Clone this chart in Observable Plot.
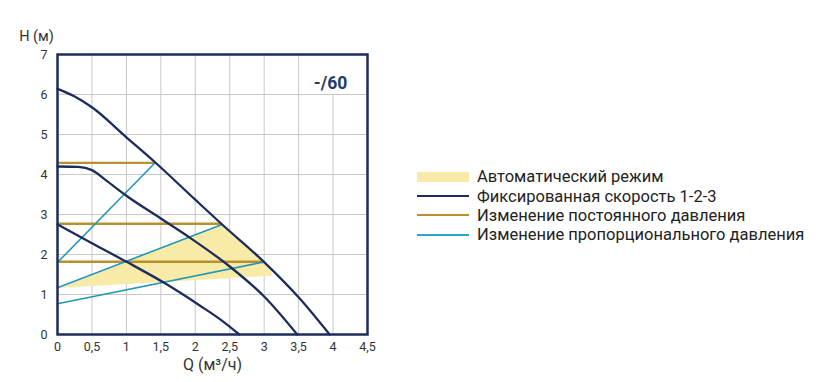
<!DOCTYPE html>
<html>
<head>
<meta charset="utf-8">
<script src="https://cdn.jsdelivr.net/npm/d3@7"></script>
<script src="https://cdn.jsdelivr.net/npm/@observablehq/plot@0.6"></script>
<style>
  body { margin: 0; background: #fff; font-family: Roboto, sans-serif; }
  #wrap { position: relative; width: 833px; height: 382px; }
  #legend { position: absolute; left: 417px; top: 167px; font-family: Roboto, sans-serif; font-size: 16.5px; color: #222; }
  .row { display: flex; align-items: center; white-space: nowrap; height: 19.4px; }
  .sw { width: 52px; margin-right: 8px; }
</style>
</head>
<body>
<div id="wrap"></div>
<script>
// Axis ticks
const qTicks = [0, 0.5, 1, 1.5, 2, 2.5, 3, 3.5, 4, 4.5];
const hTicks = [0, 1, 2, 3, 4, 5, 6, 7];

// Fixed speed curves 1-2-3
const speed1Q = [0, 0.5, 1.01, 1.56, 2.07, 2.4, 2.64];
const speed1H = [2.75, 2.28, 1.81, 1.28, 0.72, 0.33, 0];
const speed2Q = [0, 0.3, 0.5, 0.7, 1.0, 1.5, 1.93, 2.5, 3.0, 3.48];
const speed2H = [4.2, 4.19, 4.11, 3.86, 3.47, 2.9, 2.41, 1.7, 0.95, 0];
const speed3Q = [0, 0.25, 0.5, 1.0, 1.42, 2.0, 2.39, 3.0, 3.5, 3.95];
const speed3H = [6.14, 5.95, 5.68, 4.93, 4.3, 3.37, 2.75, 1.81, 0.93, 0];

// Constant pressure lines (H, ending flow)
const constH = [4.29, 2.77, 1.82];
const constQEnd = [1.42, 2.39, 2.99];

// Proportional pressure lines (start H at Q=0, end point)
const propHStart = [1.8, 1.17, 0.77];
const propQEnd = [1.42, 2.39, 2.99];
const propHEnd = [4.3, 2.75, 1.81];

// Automatic mode area
const autoQ = [0.04, 2.39, 2.6, 3.0, 3.1, 3.12];
const autoH = [1.17, 2.75, 2.44, 1.81, 1.63, 1.47];

const legendItems = [
  {label: "Автоматический режим", kind: "area"},
  {label: "Фиксированная скорость 1-2-3", kind: "speed"},
  {label: "Изменение постоянного давления", kind: "const"},
  {label: "Изменение пропорционального давления", kind: "prop"}
];

const navy = "#1d2c5c", gold = "#b8912e", teal = "#2497b6", yellow = "#f8eba8", grid = "#c8c8c8";
const colors = {area: yellow, speed: navy, const: gold, prop: "#2aa6c6"};

const toPts = (Q, H, id) => Q.map((q, i) => ({q, h: H[i], id}));
const speeds = [...toPts(speed1Q, speed1H, 1), ...toPts(speed2Q, speed2H, 2), ...toPts(speed3Q, speed3H, 3)];
const consts = constH.map((h, i) => ({x1: 0, x2: constQEnd[i], h}));
const props = propHStart.flatMap((h, i) => [{q: 0, h, id: i}, {q: propQEnd[i], h: propHEnd[i], id: i}]);
const auto = toPts(autoQ, autoH, 0);
const fmt = d => String(d).replace(".", ",");

const chart = Plot.plot({
  width: 833, height: 382,
  marginLeft: 57, marginRight: 466, marginTop: 54, marginBottom: 48,
  style: {fontFamily: "Roboto, sans-serif", fontSize: "12.5px", color: "#333", background: "#fff"},
  x: {domain: [0, 4.5], ticks: qTicks, tickFormat: fmt, tickSize: 0, tickPadding: 8, label: null},
  y: {domain: [0, 7], ticks: hTicks, tickFormat: d => String(d), tickSize: 0, tickPadding: 10, label: null},
  marks: [
    Plot.ruleX(qTicks.filter(q => q !== 4), {stroke: grid, strokeWidth: 1}),
    Plot.ruleX([4], {y1: 0, y2: 6, stroke: grid, strokeWidth: 1}),
    Plot.ruleY(hTicks, {stroke: grid, strokeWidth: 1}),
    Plot.line(auto, {x: "q", y: "h", fill: yellow, stroke: "none", curve: "linear-closed"}),
    Plot.ruleY(consts, {x1: "x1", x2: "x2", y: "h", stroke: gold, strokeWidth: 2.4}),
    Plot.line(props, {x: "q", y: "h", z: "id", stroke: teal, strokeWidth: 1.6}),
    Plot.line(speeds, {x: "q", y: "h", z: "id", stroke: navy, strokeWidth: 2.3, curve: "monotone-x"}),
    Plot.frame({stroke: navy, strokeWidth: 2.5}),
    Plot.text(["-/60"], {frameAnchor: "top-right", dx: -37, dy: 22, fontSize: 17.5, fontWeight: "bold", fill: "#1f3b6c", textAnchor: "middle"}),
    Plot.text(["H (м)"], {frameAnchor: "top-left", dx: -21, dy: -24, fontSize: 14.5, fill: "#333", textAnchor: "middle"}),
    Plot.text(["Q (м³/ч)"], {frameAnchor: "bottom", dy: 35, fontSize: 16, fill: "#333", textAnchor: "middle"})
  ]
});
const wrap = document.getElementById("wrap");
wrap.appendChild(chart);

const legend = document.createElement("div");
legend.id = "legend";
legendItems.forEach(it => {
  const row = document.createElement("div");
  row.className = "row";
  const sw = document.createElement("div");
  sw.className = "sw";
  if (it.kind === "area") { sw.style.height = "10px"; sw.style.background = colors.area; }
  else { sw.style.height = "2px"; sw.style.background = colors[it.kind]; }
  const tx = document.createElement("span");
  tx.textContent = it.label;
  row.appendChild(sw); row.appendChild(tx);
  legend.appendChild(row);
});
wrap.appendChild(legend);
</script>
</body>
</html>
